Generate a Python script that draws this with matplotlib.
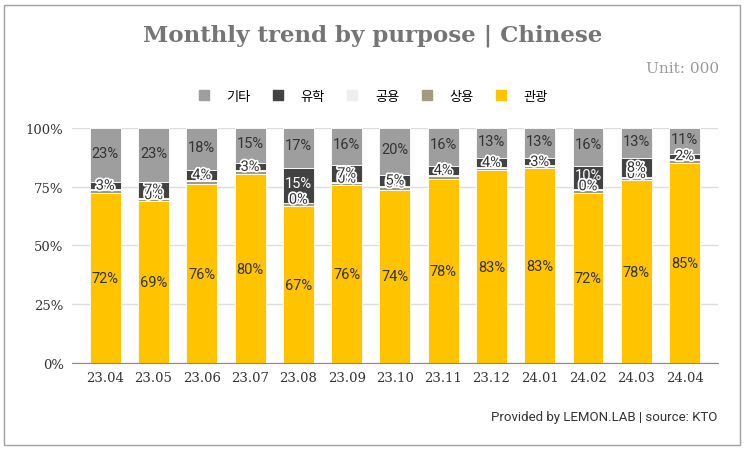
import matplotlib
matplotlib.use("Agg")
import matplotlib.pyplot as plt
import matplotlib.patheffects as pe
from matplotlib.patches import Rectangle
from matplotlib.lines import Line2D
import numpy as np

# data (percent share by purpose, Chinese visitors)
months = ['23.04', '23.05', '23.06', '23.07', '23.08', '23.09', '23.10',
          '23.11', '23.12', '24.01', '24.02', '24.03', '24.04']
tour = [72, 69, 76, 80, 67, 76, 74, 78, 83, 83, 72, 78, 85]        # 관광
business = [1.3, 1.0, 1.4, 1.3, 1.2, 1.0, 1.1, 1.3, 0.8, 1.0, 1.4, 1.0, 1.4]  # 상용
official = [0.4, 0.3, 0.4, 0.4, 0.3, 0.3, 0.3, 0.4, 0.3, 0.3, 0.4, 0.3, 0.4]  # 공용
study = [3, 7, 4, 3, 15, 7, 5, 4, 4, 3, 10, 8, 2]                  # 유학
other = [23, 23, 18, 15, 17, 16, 20, 16, 13, 13, 16, 13, 11]        # 기타

names = ['관광', '상용', '공용', '유학', '기타']
colors = ['#FFC300', '#A39A84', '#EEEEEE', '#424242', '#9E9E9E']

plt.rcParams['font.family'] = ['Noto Sans CJK KR', 'DejaVu Sans']

fig = plt.figure(figsize=(7.45, 4.52), dpi=100)
fig.patches.append(Rectangle((4/745, 6/452), 736/745, 440/452, transform=fig.transFigure,
                             fill=False, edgecolor='#A0A0A0', linewidth=1))
ax = fig.add_axes([0.0966, 0.1947, 0.867, 0.52])

series = [np.array(s, dtype=float) for s in [tour, business, official, study, other]]
total = sum(series)
x = np.arange(len(months))
bottom = np.zeros(len(months))
shares = []
for s, c, n in zip(series, colors, names):
    h = s / total * 100
    ax.bar(x, h, bottom=bottom, width=0.64, color=c, edgecolor='white', linewidth=0.6,
           label=n, zorder=3)
    shares.append((h, bottom.copy()))
    bottom += h

fs = 10.5
stroke_light = [pe.withStroke(linewidth=2.5, foreground='white')]
for i in range(len(months)):
    # 관광
    h, b = shares[0]
    ax.text(x[i], b[i] + h[i] / 2, f"{tour[i]}%", ha='center', va='center',
            fontsize=fs, color='#333333', family='Roboto', zorder=5)
    # 기타
    h, b = shares[4]
    ax.text(x[i], b[i] + h[i] / 2 + 1, f"{other[i]}%", ha='center', va='center',
            fontsize=fs, color='#333333', family='Roboto', zorder=5)
    # 유학
    h, b = shares[3]
    if study[i] >= 10:
        ax.text(x[i], b[i] + h[i] / 2 + 1, f"{study[i]}%", ha='center', va='center',
                fontsize=fs, color='white', family='Roboto', zorder=6)
    else:
        ax.text(x[i], b[i] + h[i] / 2, f"{study[i]}%", ha='center', va='center',
                fontsize=fs, color='#333333', family='Roboto', zorder=6,
                path_effects=stroke_light)
    # 공용 (0%) where there is room
    if study[i] >= 5:
        h, b = shares[2]
        ax.text(x[i], b[i] + h[i] / 2 + 1.5, "0%", ha='center', va='center',
                fontsize=fs, color='#333333', family='Roboto', zorder=5,
                path_effects=stroke_light)

ax.set_xlim(-0.69, len(months) - 0.31)
ax.set_ylim(0, 100)
ax.set_yticks([0, 25, 50, 75, 100])
ax.set_yticklabels(['0%', '25%', '50%', '75%', '100%'])
ax.set_xticks(x)
ax.set_xticklabels(months)
for lbl in ax.get_xticklabels() + ax.get_yticklabels():
    lbl.set_family('DejaVu Serif')
    lbl.set_fontsize(9.5)
    lbl.set_color('#333333')
ax.tick_params(length=0, pad=6)
ax.grid(axis='y', color='#DDDDDD', linewidth=1, zorder=0)
for sp in ['top', 'right', 'left']:
    ax.spines[sp].set_visible(False)
ax.spines['bottom'].set_color('#888888')
ax.spines['bottom'].set_zorder(4)

fig.text(0.5, 0.92, 'Monthly trend by purpose | Chinese', ha='center', va='center',
         fontsize=16.5, fontweight='bold', color='#757575', family='DejaVu Serif')
fig.text(0.965, 0.848, 'Unit: 000', ha='right', va='center', fontsize=11,
         color='#999999', family='DejaVu Serif')
fig.text(0.963, 0.077, 'Provided by LEMON.LAB | source: KTO', ha='right', va='center',
         fontsize=9.5, color='#333333', family='Roboto')

handles = [Line2D([0], [0], marker='s', linestyle='', markersize=7.5,
                  markerfacecolor=colors[k], markeredgecolor=colors[k])
           for k in [4, 3, 2, 1, 0]]
fig.legend(handles, [names[k] for k in [4, 3, 2, 1, 0]], loc='center',
           bbox_to_anchor=(0.5, 0.785), ncol=5, frameon=False, fontsize=9.5,
           handlelength=1.0, handletextpad=1.2, columnspacing=1.6)

fig.savefig('out.png', dpi=100)
